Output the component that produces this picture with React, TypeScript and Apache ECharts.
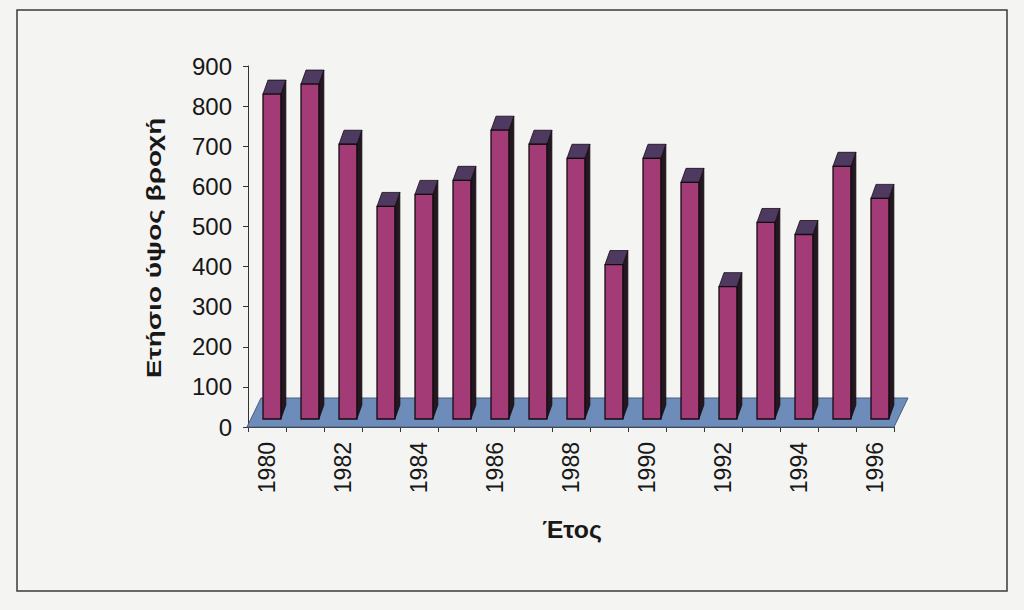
import React, { useEffect, useRef } from "react";
import * as echarts from "echarts";

const years: string[] = [
  "1980", "1981", "1982", "1983", "1984", "1985", "1986", "1987", "1988",
  "1989", "1990", "1991", "1992", "1993", "1994", "1995", "1996",
];
const rainfall: number[] = [
  810, 835, 685, 530, 560, 595, 720, 685, 650,
  385, 650, 590, 330, 490, 460, 630, 550,
];
const yTitle = "Ετήσιο ύψος βροχή";
const xTitle = "Έτος";

const FONT = "'Liberation Sans', Arial, sans-serif";

export default function App() {
  const ref = useRef<HTMLDivElement>(null);

  useEffect(() => {
    if (!ref.current) return;
    const chart = echarts.init(ref.current, null, { renderer: "svg" });

    const barData = years.map((_, i) => [i, rainfall[i]]);

    const option: any = {
      animation: false,
      backgroundColor: "#f4f4f2",
      grid: { left: 248, right: 130, top: 66, bottom: 183, containLabel: false },
      xAxis: {
        type: "category",
        data: years,
        boundaryGap: true,
        axisLine: { show: true, lineStyle: { color: "#333", width: 1 } },
        axisTick: { show: true, interval: 0, length: 5, lineStyle: { color: "#333" } },
        axisLabel: {
          interval: 1,
          rotate: 90,
          margin: 15,
          fontSize: 23,
          fontFamily: FONT,
          color: "#181818",
        },
        splitLine: { show: false },
      },
      yAxis: {
        type: "value",
        min: 0,
        max: 900,
        interval: 100,
        axisLine: { show: true, lineStyle: { color: "#333", width: 1 } },
        axisTick: { show: true, length: 5, lineStyle: { color: "#333" } },
        axisLabel: { margin: 16, fontSize: 24, fontFamily: FONT, color: "#181818" },
        splitLine: { show: false },
      },
      graphic: [
        {
          type: "rect",
          shape: { x: 17, y: 10, width: 990, height: 581 },
          style: { fill: "none", stroke: "#3a3a3a", lineWidth: 1.5 },
          z: -1,
        },
        {
          type: "text",
          x: 154,
          y: 248,
          rotation: Math.PI / 2,
          scaleX: 1.4,
          style: {
            text: yTitle,
            fontSize: 20,
            fontWeight: "bold",
            fontFamily: FONT,
            fill: "#181818",
            textAlign: "center",
            textVerticalAlign: "middle",
          },
        },
        {
          type: "text",
          x: 572,
          y: 530,
          scaleX: 1.08,
          style: {
            text: xTitle,
            fontSize: 23,
            fontWeight: "bold",
            fontFamily: FONT,
            fill: "#181818",
            textAlign: "center",
            textVerticalAlign: "middle",
          },
        },
      ],
      series: [
        {
          type: "custom",
          name: "floor",
          z: 1,
          data: [[0, 0]],
          renderItem: (params: any, api: any) => {
            const cs = params.coordSys;
            const x0 = cs.x - 1;
            const x1 = cs.x + cs.width;
            const y0 = cs.y + cs.height;
            const dx = 14;
            const dy = -29;
            return {
              type: "polygon",
              shape: {
                points: [
                  [x0, y0],
                  [x1, y0],
                  [x1 + dx, y0 + dy],
                  [x0 + dx, y0 + dy],
                ],
              },
              style: { fill: "#6d8cba", stroke: "#4a5f80", lineWidth: 1 },
            };
          },
        },
        {
          type: "custom",
          name: "Ετήσιο ύψος βροχής",
          z: 2,
          data: barData,
          renderItem: (params: any, api: any) => {
            const idx = api.value(0);
            const v = api.value(1);
            const top = api.coord([idx, v]);
            const base = api.coord([idx, 0]);
            const bw = api.size([1, 0])[0];
            const lift = 8;
            const fl = top[0] - bw * 0.105;
            const fr = fl + bw * 0.47;
            const dx = 5;
            const dy = -14;
            const yb = base[1] - lift;
            const yt = top[1] - lift;
            const edge = "#140b11";
            return {
              type: "group",
              children: [
                {
                  type: "polygon",
                  shape: { points: [[fr, yb], [fr, yt], [fr + dx, yt + dy], [fr + dx, yb + dy]] },
                  style: { fill: "#241820", stroke: edge, lineWidth: 0.8 },
                },
                {
                  type: "polygon",
                  shape: { points: [[fl, yt], [fr, yt], [fr + dx, yt + dy], [fl + dx, yt + dy]] },
                  style: { fill: "#4e3a60", stroke: edge, lineWidth: 0.8 },
                },
                {
                  type: "rect",
                  shape: { x: fl, y: yt, width: fr - fl, height: yb - yt },
                  style: { fill: "#a33c76", stroke: edge, lineWidth: 1.3 },
                },
              ],
            };
          },
        },
      ],
    };

    chart.setOption(option);
    return () => chart.dispose();
  }, []);

  return (
    <div
      ref={ref}
      style={{ position: "absolute", left: 0, top: 0, width: 1024, height: 610 }}
    />
  );
}
